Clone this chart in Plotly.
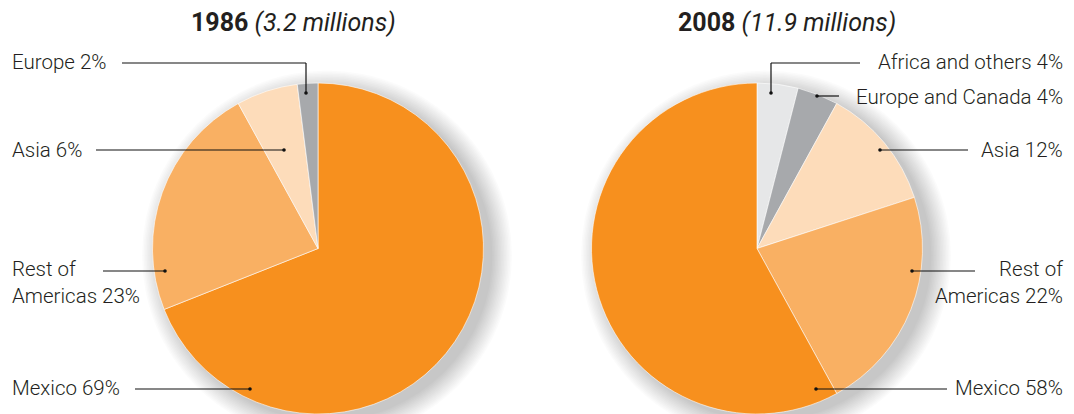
import plotly.graph_objects as go

W, H = 1074, 414

# ---- data ----
left_labels = ["Mexico", "Rest of Americas", "Asia", "Europe"]
left_values = [69, 23, 6, 2]
left_colors = ["#F7901E", "#F9B063", "#FDDCBA", "#A7A9AC"]

right_labels = ["Africa and others", "Europe and Canada", "Asia", "Rest of Americas", "Mexico"]
right_values = [4, 4, 12, 22, 58]
right_colors = ["#E6E7E8", "#A7A9AC", "#FDDCBA", "#F9B063", "#F7901E"]

left_title = ("1986", "3.2 millions")
right_title = ("2008", "11.9 millions")


def px(x):
    return x / W


def py(y):
    return 1 - y / H


FONT = "Roboto"
TEXT_COLOR = "#231F20"

L_CX, R_CX, CY_TOP = 318, 757, 83
RAD = 165.5

fig = go.Figure()

fig.add_trace(go.Pie(
    labels=left_labels, values=left_values, sort=False,
    direction="clockwise", rotation=0,
    marker=dict(colors=left_colors, line=dict(color="white", width=0.6)),
    textinfo="none", hoverinfo="label+percent", showlegend=False,
    domain=dict(x=[px(L_CX - 220), px(L_CX + 220)], y=[0, py(CY_TOP)]),
))
fig.add_trace(go.Pie(
    labels=right_labels, values=right_values, sort=False,
    direction="clockwise", rotation=0,
    marker=dict(colors=right_colors, line=dict(color="white", width=0.6)),
    textinfo="none", hoverinfo="label+percent", showlegend=False,
    domain=dict(x=[px(R_CX - 220), px(R_CX + 220)], y=[0, py(CY_TOP)]),
))

shapes = []
# soft drop shadows
for cx in (L_CX, R_CX):
    cy = CY_TOP + RAD
    for k in range(13, -1, -1):
        r = RAD + k * 1.5
        ox, oy = cx + 9, cy + 7
        shapes.append(dict(type="circle", xref="paper", yref="paper",
                           x0=px(ox - r), x1=px(ox + r), y0=py(oy + r), y1=py(oy - r),
                           fillcolor="rgba(0,0,0,0.017)", line=dict(width=0), layer="below"))

annotations = []


def label(text, x, y, anchor):
    annotations.append(dict(text=text, x=px(x), y=py(y), xref="paper", yref="paper",
                            xanchor=anchor, yanchor="middle", showarrow=False, align=anchor,
                            borderpad=0,
                            font=dict(family=FONT, size=20.5, color=TEXT_COLOR, weight=300)))


def leader(points):
    for (x0, y0), (x1, y1) in zip(points[:-1], points[1:]):
        shapes.append(dict(type="line", xref="paper", yref="paper",
                           x0=px(x0), y0=py(y0), x1=px(x1), y1=py(y1),
                           line=dict(color="#111111", width=1.2), layer="above"))
    dx, dy = points[-1]
    r = 1.8
    shapes.append(dict(type="circle", xref="paper", yref="paper",
                       x0=px(dx - r), x1=px(dx + r), y0=py(dy + r), y1=py(dy - r),
                       fillcolor="#111111", line=dict(width=0), layer="above"))


# left pie labels
left_text = ["Europe 2%", "Asia 6%", "Rest of<br>Americas 23%", "Mexico 69%"]
label(left_text[0], 11, 62, "left")
leader([(122, 63), (306, 63), (306, 93)])
label(left_text[1], 11, 150, "left")
leader([(96, 150), (284, 150)])
label(left_text[2], 11, 282, "left")
leader([(103, 271), (165, 271)])
label(left_text[3], 11, 388, "left")
leader([(135, 389), (250, 389)])

# right pie labels
right_text = ["Africa and others 4%", "Europe and Canada 4%", "Asia 12%",
              "Rest of<br>Americas 22%", "Mexico 58%"]
label(right_text[0], 1064, 62, "right")
leader([(860, 63), (771, 63), (771, 93)])
label(right_text[1], 1064, 97, "right")
leader([(839, 96), (817, 96)])
label(right_text[2], 1064, 150, "right")
leader([(968, 150), (880, 150)])
label(right_text[3], 1064, 282, "right")
leader([(975, 271), (912, 271)])
label(right_text[4], 1064, 388, "right")
leader([(947, 389), (816, 389)])

# titles
for (yr, sub), cx in ((left_title, 293.5), (right_title, 786.5)):
    annotations.append(dict(text=f"<b>{yr}</b> <i>({sub})</i>", x=px(cx), y=py(22),
                            xref="paper", yref="paper", xanchor="center", yanchor="middle",
                            showarrow=False,
                            font=dict(family=FONT, size=25, color=TEXT_COLOR)))

fig.update_layout(
    width=W, height=H, margin=dict(l=0, r=0, t=0, b=0),
    paper_bgcolor="white", plot_bgcolor="white",
    shapes=shapes, annotations=annotations, showlegend=False,
)

fig.write_html("out.html")
